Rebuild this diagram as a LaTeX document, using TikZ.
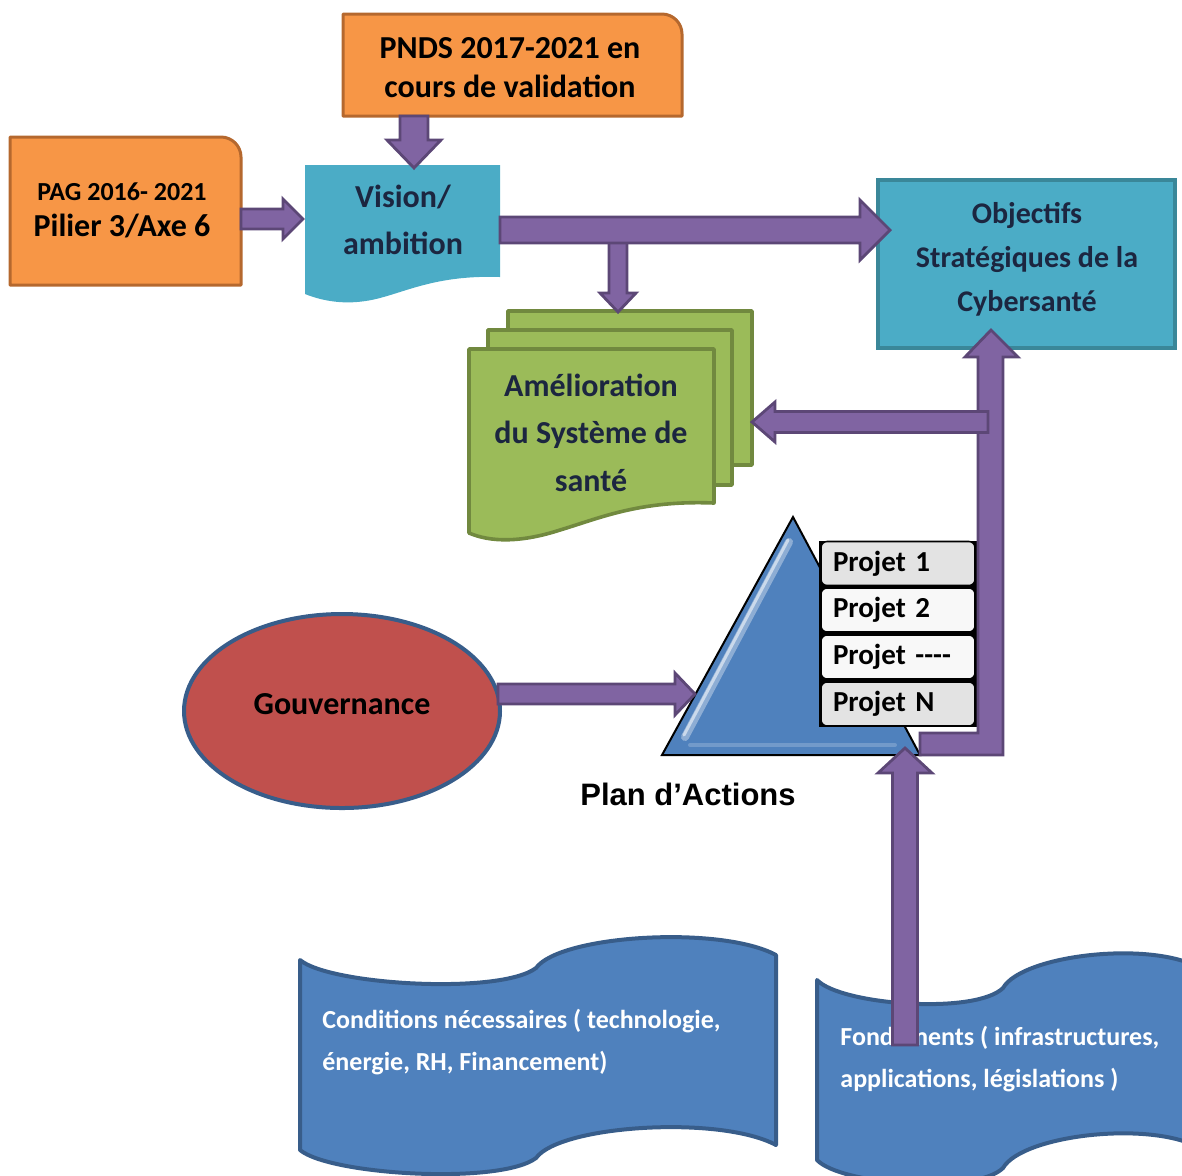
\documentclass[tikz,border=0pt]{standalone}
\usepackage{fontspec}
\setmainfont{Carlito}
\newfontfamily\arialfont{Liberation Sans}
\usetikzlibrary{calc,shapes.geometric}
\definecolor{orF}{HTML}{F79646}
\definecolor{orD}{HTML}{B5682E}
\definecolor{cyF}{HTML}{4BACC6}
\definecolor{cyD}{HTML}{3A8799}
\definecolor{grF}{HTML}{9BBB59}
\definecolor{grD}{HTML}{71893F}
\definecolor{puF}{HTML}{8064A2}
\definecolor{puD}{HTML}{5C4776}
\definecolor{blF}{HTML}{4F81BD}
\definecolor{blD}{HTML}{385D8A}
\definecolor{rdF}{HTML}{C0504D}
\definecolor{txD}{HTML}{1C2640}
\definecolor{pjA}{HTML}{E3E3E3}
\definecolor{pjB}{HTML}{F8F8F8}
\tikzset{
  orangebox/.style={fill=orF, draw=orD, line width=1.5pt, line join=round},
  blockarrow/.style={fill=puF, draw=puD, line width=1.4pt, line join=miter},
  greensheet/.style={fill=grF, draw=grD, line width=1.8pt, line join=round},
  banner/.style={fill=blF, draw=blD, line width=2pt, line join=round},
  lbl/.style={inner sep=0pt, align=center, font=\bfseries},
  projbox/.style={draw=black, line width=0.8pt, rounded corners=3pt, minimum height=22pt,
    text width=65pt, inner xsep=6pt, inner ysep=0pt, align=left,
    font=\fontsize{14.5}{17}\selectfont\bfseries},
}
% block arrow: start, end, shaft half width, head half width, head length
\newcommand\barrow[5]{%
  \draw[blockarrow] let \p1=(#1), \p2=(#2),
     \n1={atan2(\y2-\y1,\x2-\x1)}, \n2={veclen(\x2-\x1,\y2-\y1)} in
    ([shift={(\p1)},rotate=\n1]0pt,#3) --
    ([shift={(\p1)},rotate=\n1]\n2-#5,#3) --
    ([shift={(\p1)},rotate=\n1]\n2-#5,#4) --
    ([shift={(\p1)},rotate=\n1]\n2,0pt) --
    ([shift={(\p1)},rotate=\n1]\n2-#5,-#4) --
    ([shift={(\p1)},rotate=\n1]\n2-#5,-#3) --
    ([shift={(\p1)},rotate=\n1]0pt,-#3) -- cycle;}
\begin{document}
\begin{tikzpicture}[x=0.5pt,y=-0.5pt]
\useasboundingbox (0,0) rectangle (1182,1175);
\clip (0,0) rectangle (1182,1175);

% ---------- PNDS ----------
\path[orangebox] (343,116) -- (343,14) -- (662,14) .. controls (673,14) and (682,23) .. (682,34) -- (682,116) -- cycle;
\node[lbl, minimum width=169.5pt, minimum height=51pt, font=\fontsize{16}{19.5}\selectfont\bfseries] (pnds) at (510,67.5)
  {PNDS 2017-2021 en\\cours de validation};

% ---------- PAG ----------
\path[orangebox] (10,285) -- (10,137) -- (221,137) .. controls (232,137) and (241,146) .. (241,157) -- (241,285) -- cycle;
\node[lbl, font=\fontsize{16}{18}\selectfont\bfseries] (pag) at (122,210)
  {{\fontsize{13}{18}\selectfont PAG 2016- 2021}\\Pilier 3/Axe 6};

% ---------- Vision ----------
\path[fill=cyF] (305,165) -- (500,165) -- (500,277)
   .. controls (440,275) and (410,290) .. (380,298)
   .. controls (350,306) and (325,302) .. (305,294) -- cycle;
\node[lbl, text=txD, font=\fontsize{16}{23.5}\selectfont\bfseries] (vision) at (403,219.5) {Vision/\\ambition};

% ---------- Objectifs ----------
\node[draw=cyD, fill=cyF, line width=1.8pt, minimum width=148.5pt, minimum height=84pt, inner sep=0pt] (obj) at (1026.5,264) {};
\node[lbl, text=txD, font=\fontsize{15}{22}\selectfont\bfseries] (objtxt) at (1027,259)
  {Objectifs\\Stratégiques de la\\Cybersanté};

% ---------- Green multi-document ----------
\path[greensheet] (508,311) rectangle (752,465);
\path[greensheet] (488,330) rectangle (732,485);
\path[greensheet] (469,349) -- (714,349) -- (714,503)
   .. controls (640,500) and (600,518) .. (560,530)
   .. controls (520,543) and (490,542) .. (469,533) -- cycle;
\node[lbl, text=txD, font=\fontsize{16}{23.7}\selectfont\bfseries] (sante) at (591,432.5)
  {Amélioration\\du Système de\\santé};

% ---------- Triangle (Plan d'Actions) ----------
\coordinate (tt) at (793,517);
\coordinate (tl) at (662,755);
\coordinate (tr) at (920,755);
\path[fill=blF, draw=black, line width=1pt, line join=miter] (tt) -- (tr) -- (tl) -- cycle;
\draw[line width=4pt, white!35!blF, line cap=round] (789,542) -- (685,737);
\draw[line width=1.5pt, white!70!blF, line cap=round] (788,540) -- (684,735);
\draw[line width=2pt, white!20!blF, line cap=round] (690,745) -- (895,745);
\node[inner sep=0pt, font=\arialfont\fontsize{15.5}{18}\selectfont\bfseries] (plan) at (688,794) {Plan d’Actions};

% ---------- Projects ----------
\path[fill=black] (819,541) rectangle (977,727);
\node[projbox, fill=pjA] (p1) at (898,563.5) {Projet 1};
\node[projbox, fill=pjB] (p2) at (898,610) {Projet 2};
\node[projbox, fill=pjB] (p3) at (898,657) {Projet -{}-{}-{}-};
\node[projbox, fill=pjA] (pN) at (898,704) {Projet N};

% ---------- Gouvernance ----------
\node[ellipse, draw=blD, line width=2pt, fill=rdF, minimum width=158pt, minimum height=97pt, inner sep=0pt,
      font=\fontsize{16}{19}\selectfont\bfseries] (gouv) at (342,711) {\raisebox{7pt}{Gouvernance}};

% ---------- Banners ----------
\path[banner] (300,960) .. controls (330,985) and (500,995) .. (536,968)
   .. controls (560,935) and (720,925) .. (776,955) -- (776,1145)
   .. controls (720,1115) and (560,1125) .. (536,1158)
   .. controls (500,1185) and (330,1175) .. (300,1150) -- cycle;
\node[inner sep=0pt, anchor=west, align=left, text=white, font=\fontsize{13}{21}\selectfont\bfseries] (cond) at (322,1042)
  {Conditions nécessaires ( technologie,\\énergie, RH, Financement)};

\path[banner] (817,980) .. controls (841,1005) and (975,1015) .. (1003,988)
   .. controls (1022,955) and (1150,940) .. (1200,968) -- (1200,1148)
   .. controls (1150,1120) and (1022,1135) .. (1003,1168)
   .. controls (975,1195) and (841,1185) .. (817,1160) -- cycle;
\node[inner sep=0pt, anchor=west, align=left, text=white, font=\fontsize{13}{21}\selectfont\bfseries] (fond) at (840,1059)
  {Fondements ( infrastructures,\\applications, législations )};

% ---------- Arrow end points ----------
\coordinate (a1s) at (414,116);  \coordinate (a1e) at (414,168);
\coordinate (a2s) at (241,219);  \coordinate (a2e) at (303,219);
\coordinate (a3s) at (500,230);  \coordinate (a3e) at (890,230);
\coordinate (a4s) at (618,236);  \coordinate (a4e) at (618,312);
\coordinate (a5s) at (988,422);  \coordinate (a5e) at (752,422);
\coordinate (a6s) at (905,1045); \coordinate (a6e) at (905,748);
\coordinate (a7s) at (498,694);  \coordinate (a7e) at (695,694);

% ---------- Arrows ----------
\barrow{a1s}{a1e}{7pt}{13.5pt}{14pt}
\barrow{a2s}{a2e}{5pt}{10pt}{10pt}
\barrow{a4s}{a4e}{4.5pt}{9pt}{9.5pt}
\barrow{a3s}{a3e}{6.5pt}{15pt}{15pt}
\barrow{a7s}{a7e}{5pt}{10.5pt}{10pt}
\barrow{a6s}{a6e}{6.25pt}{13.5pt}{12.5pt}
% L-shaped arrow from the action plan to the objectives
\draw[blockarrow] (tr |- 0,733) -- (978,733) -- (978,357) -- (965,357) -- (991,330)
   -- (1018,357) -- (1003,357) -- (1003,755) -- (tr) -- cycle;
\barrow{a5s}{a5e}{5.25pt}{10pt}{11.5pt}
\end{tikzpicture}
\end{document}
